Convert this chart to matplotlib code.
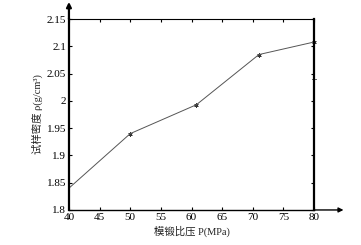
import matplotlib.pyplot as plt

plt.rcParams['font.family'] = ['Liberation Serif', 'Noto Sans CJK SC']

pressure = [40, 50, 60.8, 71, 80]
density = [1.84, 1.94, 1.993, 2.085, 2.108]
stray_x = [80]
stray_y = [2.04]
xticks = [40, 45, 50, 55, 60, 65, 70, 75, 80]
yticks = [1.8, 1.85, 1.9, 1.95, 2.0, 2.05, 2.1, 2.15]
ytick_labels = ['1.8', '1.85', '1.9', '1.95', '2', '2.05', '2.1', '2.15']

fig = plt.figure(figsize=(3.61, 2.45), dpi=100)
ax = fig.add_axes([0.191, 0.143, 0.679, 0.779])

ax.plot(pressure[1:], density[1:], ls='none', marker=(6, 2, 0),
        ms=3, mec='#333333', mew=0.6, clip_on=False)
ax.plot(pressure, density, color='#555555', lw=0.7, clip_on=False)
ax.plot(stray_x, stray_y, ls='none', marker=(4, 2, 0), ms=3.5,
        mec='#666666', mew=0.7, clip_on=False)

ax.set_xlim(40, 80)
ax.set_ylim(1.8, 2.15)
ax.set_xticks(xticks)
ax.set_yticks(yticks)
ax.set_yticklabels(ytick_labels)
ax.tick_params(direction='in', length=2.5, width=0.8, labelsize=8,
               top=True, right=True, pad=2, colors='black')

for side in ['left', 'right']:
    ax.spines[side].set_linewidth(1.6)
ax.spines['bottom'].set_linewidth(1.0)
ax.spines['top'].set_linewidth(0.8)

# axis arrows
ax.annotate('', xy=(0, 1.09), xytext=(0, 1.0), xycoords='axes fraction',
            arrowprops=dict(arrowstyle='-|>', lw=1.6, color='black',
                            mutation_scale=7, shrinkA=0, shrinkB=0),
            annotation_clip=False)
ax.annotate('', xy=(1.12, 0), xytext=(1.0, 0), xycoords='axes fraction',
            arrowprops=dict(arrowstyle='-|>', lw=1.0, color='black',
                            mutation_scale=7, shrinkA=0, shrinkB=0),
            annotation_clip=False)

ax.set_xlabel('模锻比压 P(MPa)', fontsize=7.5, labelpad=3, color='#222222')
ax.set_ylabel('试样密度 ρ(g/cm³)', fontsize=7.5, labelpad=3, color='#222222')

fig.savefig('out.png', dpi=100)
